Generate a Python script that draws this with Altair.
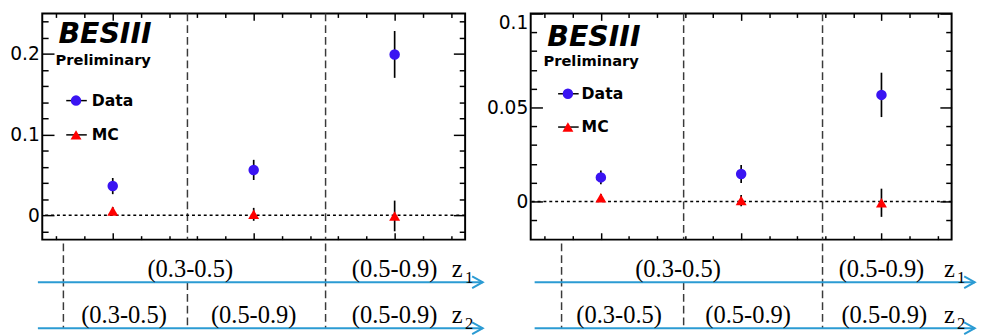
import altair as alt
import pandas as pd

BLUE_PT = "#3a14f2"
RED_PT = "#ff0000"
ARROW = "#2b9bd3"
SEP_COL = "#3a3a3a"

bins = [1, 2, 3]
x_major = [1, 2, 3]
x_minor = [0.6, 0.8, 1.2, 1.4, 1.6, 1.8, 2.2, 2.4, 2.6, 2.8, 3.2, 3.4]

# ---- left panel values
p1_data = [0.036, 0.056, 0.199]
p1_data_err = [0.010, 0.0125, 0.029]
p1_mc = [0.005, 0.001, -0.001]
p1_mc_err = [0.005, 0.008, 0.019]
p1_major = [0, 0.1, 0.2]
p1_minor = [-0.02, 0.02, 0.04, 0.06, 0.08, 0.12, 0.14, 0.16, 0.18, 0.22, 0.24]
p1_separators = [1.53, 2.51]

# ---- right panel values
p2_data = [0.0128, 0.0146, 0.0567]
p2_data_err = [0.0037, 0.0048, 0.0118]
p2_mc = [0.002, 0.0005, -0.0007]
p2_mc_err = [0.002, 0.003, 0.0075]
p2_major = [0, 0.05, 0.1]
p2_minor = [-0.01, 0.01, 0.02, 0.03, 0.04, 0.06, 0.07, 0.08, 0.09]
p2_separators = [1.59, 2.58]

# ---- bin annotations under the panels
z_names = ["z", "z"]
z_subs = ["1", "2"]
z1_labels = ["(0.3-0.5)", "(0.5-0.9)"]
z2_labels = ["(0.3-0.5)", "(0.5-0.9)", "(0.5-0.9)"]
p1_z1_pos = [1.55, 3.0]
p1_z2_pos = [1.08, 2.0, 3.0]
p2_z1_pos = [1.55, 3.0]
p2_z2_pos = [1.13, 2.05, 3.02]
p1_bounds = [0.65] + p1_separators
p2_bounds = [0.72] + p2_separators
bound_full = [True, False, True]
p1_arrow = [0.469, 3.625]
p2_arrow = [0.528, 3.665]


def plot_panel(data, data_err, mc, mc_err, seps, ydom, ymajor, yminor, W, H, leg, flush):
    xs = alt.Scale(domain=[0.5, 3.5], nice=False, zero=False)
    ys = alt.Scale(domain=ydom, nice=False, zero=False)
    df = pd.DataFrame({
        "bin": bins,
        "data": data,
        "dlo": [v - e for v, e in zip(data, data_err)],
        "dhi": [v + e for v, e in zip(data, data_err)],
        "mc": mc,
        "mlo": [v - e for v, e in zip(mc, mc_err)],
        "mhi": [v + e for v, e in zip(mc, mc_err)],
    })
    sep = pd.DataFrame({"x": seps})
    zero = pd.DataFrame({"y": [0.0]})
    one = pd.DataFrame({"k": [0]})

    def X(f, axis=None):
        return alt.X(f, type="quantitative", scale=xs, axis=axis)

    def Y(f, axis=None):
        return alt.Y(f, type="quantitative", scale=ys, axis=axis)

    tc = dict(labels=False, domain=False, grid=False, title=None,
              tickColor="black", tickWidth=1.5)

    def axis_layer(xaxis, yaxis):
        return alt.Chart(df).mark_point(opacity=0).encode(
            x=X("bin", xaxis), y=Y("data", yaxis))

    lab = dict(orient="left", values=ymajor, format="~g", ticks=False,
               domain=False, grid=False, title=None, labelPadding=3,
               labelFont="DejaVu Sans", labelFontSize=19, labelColor="black")
    if flush:
        lab.update(labelFlush=4, labelFlushOffset=0)

    layers = [
        axis_layer(None, alt.Axis(**lab)),
        axis_layer(alt.Axis(orient="top", offset=-H, values=x_major, tickSize=7, **tc),
                   alt.Axis(orient="right", offset=-W, values=ymajor, tickSize=12, **tc)),
        axis_layer(alt.Axis(orient="top", offset=-H, values=x_minor, tickSize=4, **tc),
                   alt.Axis(orient="right", offset=-W, values=yminor, tickSize=6, **tc)),
        axis_layer(alt.Axis(orient="bottom", offset=-H, values=x_major, tickSize=7, **tc),
                   alt.Axis(orient="left", offset=-W, values=ymajor, tickSize=12, **tc)),
        axis_layer(alt.Axis(orient="bottom", offset=-H, values=x_minor, tickSize=4, **tc),
                   alt.Axis(orient="left", offset=-W, values=yminor, tickSize=6, **tc)),
        alt.Chart(sep).mark_rule(color=SEP_COL, strokeWidth=1.5, strokeDash=[8, 4]).encode(x=X("x")),
        alt.Chart(zero).mark_rule(color="black", strokeWidth=1.5, strokeDash=[3, 3]).encode(y=Y("y")),
        alt.Chart(df).mark_rule(color="black", strokeWidth=1.7).encode(x=X("bin"), y=Y("dlo"), y2="dhi"),
        alt.Chart(df).mark_rule(color="black", strokeWidth=1.7).encode(x=X("bin"), y=Y("mlo"), y2="mhi"),
        alt.Chart(df).mark_point(shape="circle", filled=True, size=115, color=BLUE_PT, opacity=1).encode(
            x=X("bin"), y=Y("data")),
        alt.Chart(df).mark_point(shape="triangle-up", filled=True, size=125, color=RED_PT, opacity=1).encode(
            x=X("bin"), y=Y("mc")),
        # legend
        alt.Chart(one).mark_rule(color="black", strokeWidth=1.5).encode(
            x=alt.value(leg["lx0"]), x2=alt.value(leg["lx1"]), y=alt.value(leg["yd"])),
        alt.Chart(one).mark_rule(color="black", strokeWidth=1.5).encode(
            x=alt.value(leg["lx0"]), x2=alt.value(leg["lx1"]), y=alt.value(leg["ym"])),
        alt.Chart(one).mark_point(shape="circle", filled=True, size=115, color=BLUE_PT, opacity=1).encode(
            x=alt.value(leg["cx"]), y=alt.value(leg["yd"])),
        alt.Chart(one).mark_point(shape="triangle-up", filled=True, size=125, color=RED_PT, opacity=1).encode(
            x=alt.value(leg["cx"]), y=alt.value(leg["ym"])),
        alt.Chart(one).mark_text(text="Data", font="DejaVu Sans", fontWeight="bold", fontSize=16,
                                 align="left", baseline="middle", color="black").encode(
            x=alt.value(leg["tx"]), y=alt.value(leg["yd"])),
        alt.Chart(one).mark_text(text="MC", font="DejaVu Sans", fontWeight="bold", fontSize=16,
                                 align="left", baseline="middle", color="black").encode(
            x=alt.value(leg["tx"]), y=alt.value(leg["ym"])),
        # logo
        alt.Chart(one).mark_text(text="BESIII", font="DejaVu Sans", fontWeight="bold", fontStyle="italic",
                                 fontSize=29, align="left", baseline="alphabetic", color="black").encode(
            x=alt.value(leg["bx"]), y=alt.value(leg["by"])),
        alt.Chart(one).mark_text(text="Preliminary", font="DejaVu Sans", fontWeight="bold",
                                 fontSize=15, align="left", baseline="alphabetic", color="black").encode(
            x=alt.value(leg["px"]), y=alt.value(leg["py"])),
    ]
    return alt.layer(*layers).resolve_axis(x="independent", y="independent").properties(
        width=W, height=H)


def ann_panel(W, arrow, z1_pos, z2_pos, bounds):
    xs = alt.Scale(domain=[0.5, 3.5], nice=False, zero=False)
    ydom = [0.16, 2.075]
    ys = alt.Scale(domain=ydom, nice=False, zero=False, reverse=True)
    arrows = pd.DataFrame({"row": [1, 2], "x0": [arrow[0]] * 2, "x1": [arrow[1]] * 2,
                           "z": z_names, "sub": z_subs})
    labels = pd.DataFrame({
        "row": [1] * len(z1_labels) + [2] * len(z2_labels),
        "x": z1_pos + z2_pos,
        "label": z1_labels + z2_labels,
    })
    seps = pd.DataFrame({
        "x": bounds,
        "ytop": [ydom[0] if f else 1.0 for f in bound_full],
        "ybot": [2.0] * len(bounds),
    })

    def X(f):
        return alt.X(f, type="quantitative", scale=xs, axis=None)

    def Y(f):
        return alt.Y(f, type="quantitative", scale=ys, axis=None)

    serif = "Liberation Serif"
    layers = [
        alt.Chart(seps).mark_rule(color=SEP_COL, strokeWidth=1.5, strokeDash=[8, 4]).encode(
            x=X("x"), y=Y("ytop"), y2="ybot"),
        alt.Chart(arrows).mark_rule(color=ARROW, strokeWidth=2).encode(x=X("x0"), x2="x1", y=Y("row")),
        alt.Chart(arrows).mark_point(shape="M-1.8,-1L0,0L-1.8,1", filled=False, size=144,
                                     color=ARROW, strokeWidth=2, opacity=1).encode(x=X("x1"), y=Y("row")),
        alt.Chart(labels).mark_text(font=serif, fontSize=25, baseline="alphabetic", dy=-5,
                                    color="black").encode(x=X("x"), y=Y("row"), text="label"),
        alt.Chart(arrows).mark_text(font=serif, fontSize=25, baseline="alphabetic", dx=-26, dy=-5,
                                    color="black").encode(x=X("x1"), y=Y("row"), text="z"),
        alt.Chart(arrows).mark_text(font=serif, fontSize=17, baseline="alphabetic", dx=-14, dy=1,
                                    color="black").encode(x=X("x1"), y=Y("row"), text="sub"),
    ]
    return alt.layer(*layers).properties(width=W, height=90,
                                         view=alt.ViewBackground(stroke="transparent"))


W1, W2, H = 432, 430, 231
leg1 = dict(lx0=24.5, lx1=45.5, cx=34.5, tx=50.5, yd=89, ym=124, bx=16.5, by=30, px=13.5, py=53)
leg2 = dict(lx0=28, lx1=49, cx=38, tx=52, yd=82, ym=116, bx=17, by=33, px=13, py=54)

p1 = plot_panel(p1_data, p1_data_err, p1_mc, p1_mc_err, p1_separators, [-0.0303, 0.2497],
                p1_major, p1_minor, W1, H, leg1, False)
p2 = plot_panel(p2_data, p2_data_err, p2_mc, p2_mc_err, p2_separators, [-0.0203, 0.1],
                p2_major, p2_minor, W2, H, leg2, True)
a1 = ann_panel(W1, p1_arrow, p1_z1_pos, p1_z2_pos, p1_bounds)
a2 = ann_panel(W2, p2_arrow, p2_z1_pos, p2_z2_pos, p2_bounds)

chart = alt.concat(
    p1, p2, a1, a2, columns=2, align="each",
    spacing=alt.RowColnumber(row=0, column=-4),
).properties(
    padding={"left": 0, "top": 0, "right": 0, "bottom": 0}
).configure_view(stroke="black", strokeWidth=2)

chart.save("out.html", embed_options={"renderer": "svg", "actions": False})
